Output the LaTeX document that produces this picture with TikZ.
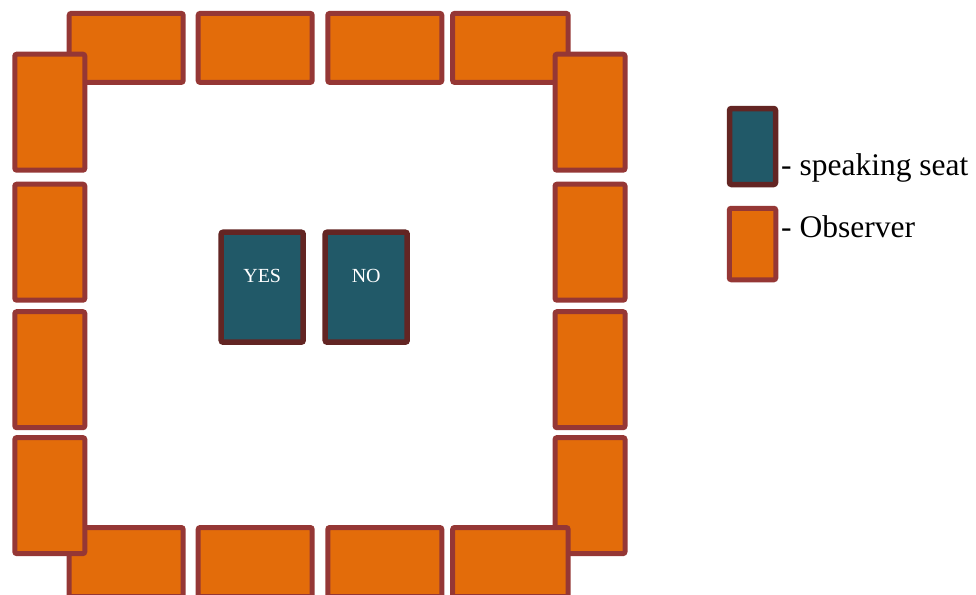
\documentclass[tikz,border=0pt]{standalone}
\usepackage{fontspec}
\setmainfont{Liberation Serif}
\usepackage{tikz}
\usetikzlibrary{positioning}
\definecolor{pumpkin}{HTML}{E36C0A}
\definecolor{brick}{HTML}{953735}
\definecolor{deepteal}{HTML}{215968}
\definecolor{maroon}{HTML}{632523}
\tikzset{
  seatbox/.style={
    rectangle, draw=brick, fill=pumpkin, line width=5pt,
    rounded corners=2pt, inner sep=0pt
  },
  rowseat/.style={seatbox, minimum width=114pt, minimum height=69pt},
  colseat/.style={seatbox, minimum width=70pt, minimum height=116pt},
  speakbox/.style={
    rectangle, draw=maroon, fill=deepteal, line width=5.5pt,
    rounded corners=2pt, inner sep=0pt,
    minimum width=82pt, minimum height=110pt,
    text=white, font=\fontsize{20}{23}\selectfont, text depth=22pt
  },
  keylabel/.style={
    anchor=base west, inner sep=0pt, font=\fontsize{31.5}{38}\selectfont
  },
}

\begin{document}
\begin{tikzpicture}[x=1pt, y=-1pt]
  \clip (0,0) rectangle (976,594);

  % top row
  \node[rowseat] (t1) at (126.2,47.9) {};
  \node[rowseat] (t2) at (255.2,47.9) {};
  \node[rowseat] (t3) at (384.8,47.9) {};
  \node[rowseat, minimum width=115.5pt] (t4) at (510.4,47.9) {};

  % right column
  \node[colseat] (r1) at (590,112.2) {};
  \node[colseat] (r2) at (590,242.2) {};
  \node[colseat] (r3) at (590,369.7) {};
  \node[colseat] (r4) at (590,495.6) {};

  % bottom row
  \node[rowseat] (b1) at (126.2,562) {};
  \node[rowseat] (b2) at (255.2,562) {};
  \node[rowseat] (b3) at (384.8,562) {};
  \node[rowseat, minimum width=115.5pt] (b4) at (510.4,562) {};

  % left column
  \node[colseat] (l1) at (49.8,112.2) {};
  \node[colseat] (l2) at (49.8,242.2) {};
  \node[colseat] (l3) at (49.8,369.7) {};
  \node[colseat] (l4) at (49.8,495.6) {};

  % speaking seats
  \node[speakbox] (yes) at (262.2,287.2) {YES};
  \node[speakbox] (no) at (366.2,287.2) {NO};

  % Legend
  \node[speakbox, minimum width=46pt, minimum height=76pt] (keyspeak)
    at (752.5,146.5) {};
  \node[seatbox, minimum width=46.5pt, minimum height=71.5pt] (keyobs)
    at (752.5,244) {};
  \node[keylabel] (speaklabel) at (781,175) {- speaking seat};
  \node[keylabel] (obslabel) at (781,237.5) {- Observer};
\end{tikzpicture}
\end{document}
